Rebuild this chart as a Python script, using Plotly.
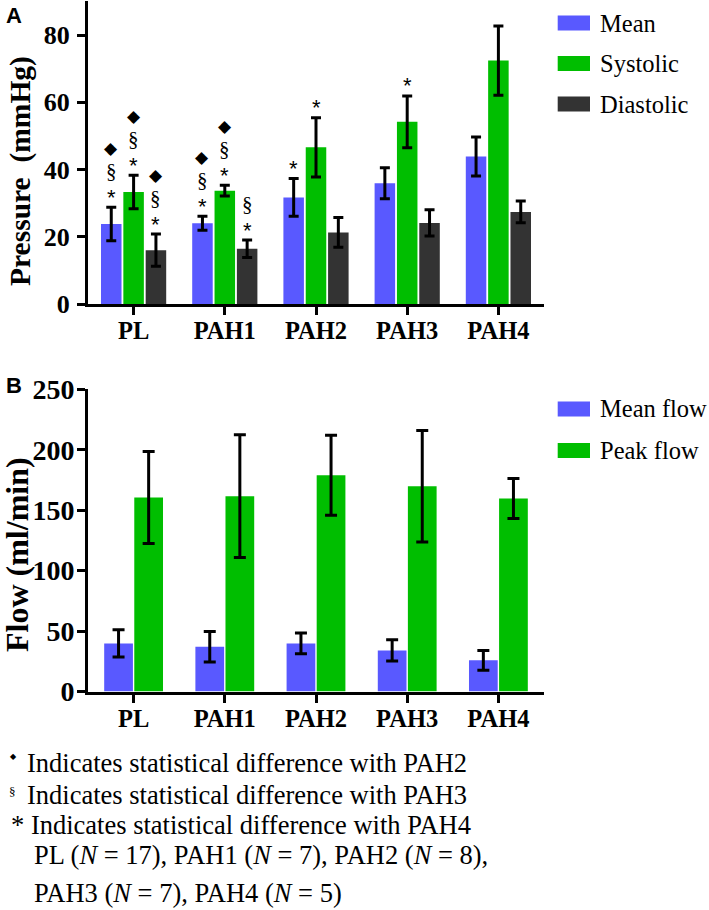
import plotly.graph_objects as go

# ---------------- data ----------------
categories = ["PL", "PAH1", "PAH2", "PAH3", "PAH4"]

pressure_series = ["Mean", "Systolic", "Diastolic"]
pressure_mean = [23.8, 24.0, 31.7, 35.9, 43.9]
pressure_mean_err = [5.0, 2.1, 5.6, 4.6, 5.8]
pressure_systolic = [33.3, 33.7, 46.6, 54.2, 72.4]
pressure_systolic_err = [5.0, 1.6, 8.8, 7.7, 10.3]
pressure_diastolic = [16.0, 16.4, 21.3, 24.1, 27.4]
pressure_diastolic_err = [4.8, 2.6, 4.4, 3.9, 3.2]
pressure_ticks = [0, 20, 40, 60, 80]

# significance symbols per bar, listed bottom -> top
sig_mean = ["*§◆", "*§◆", "*", "", ""]
sig_systolic = ["*§◆", "*§◆", "*", "*", ""]
sig_diastolic = ["*§◆", "*§", "", "", ""]

flow_series = ["Mean flow", "Peak flow"]
flow_mean = [39.8, 37.0, 39.8, 34.0, 25.8]
flow_mean_err = [11.2, 12.6, 8.6, 8.8, 8.2]
flow_peak = [160.5, 161.6, 178.9, 169.8, 159.7]
flow_peak_err = [38.0, 50.7, 33.0, 46.2, 16.6]
flow_ticks = [0, 50, 100, 150, 200, 250]

footnotes = [
    "Indicates statistical difference with PAH2",
    "Indicates statistical difference with PAH3",
    "* Indicates statistical difference with PAH4",
    "PL (<i>N</i> = 17), PAH1 (<i>N</i> = 7), PAH2 (<i>N</i> = 8),",
    "PAH3 (<i>N</i> = 7), PAH4 (<i>N</i> = 5)",
]

# ---------------- style ----------------
W, H = 709, 910
BLUE, GREEN, DARK = "#5959FF", "#00BE00", "#333333"
SERIF = "Liberation Serif, Times New Roman, Times, DejaVu Serif, serif"
SANS = "Liberation Sans, Arial, Helvetica, sans-serif"

X0, X1 = 88, 544            # plot area in px (both panels)
A_TOP, A_BOT = 1.4, 304     # panel A y-extent px
B_TOP, B_BOT = 389.3, 691.5 # panel B y-extent px
PPU = (X1 - X0) / 5.0       # px per category unit


def py(p):  # px from top -> paper y
    return 1 - p / H


def px(p):
    return p / W


fig = go.Figure()

# Panel A bars (explicit offsets so both panels can differ)
a_slot, a_w = 0.245, 0.225
a_vals = [(pressure_mean, pressure_mean_err, BLUE),
          (pressure_systolic, pressure_systolic_err, GREEN),
          (pressure_diastolic, pressure_diastolic_err, DARK)]
for i, (vals, errs, col) in enumerate(a_vals):
    c = (i - 1) * a_slot
    fig.add_trace(go.Bar(
        x=categories, y=vals, name=pressure_series[i], marker_color=col,
        marker_line_width=0, width=a_w, offset=c - a_w / 2,
        error_y=dict(type="data", array=errs, color="black", thickness=3, width=5),
        xaxis="x", yaxis="y", showlegend=False))

# Panel B bars
b_slot, b_w = 0.33, 0.315
b_vals = [(flow_mean, flow_mean_err, BLUE), (flow_peak, flow_peak_err, GREEN)]
for i, (vals, errs, col) in enumerate(b_vals):
    c = (i - 0.5) * b_slot
    fig.add_trace(go.Bar(
        x=categories, y=vals, name=flow_series[i], marker_color=col,
        marker_line_width=0, width=b_w, offset=c - b_w / 2,
        error_y=dict(type="data", array=errs, color="black", thickness=3, width=6),
        xaxis="x2", yaxis="y2", showlegend=False))

annotations = []
shapes = []

# significance symbols
sym_font = {"*": dict(family=SANS, size=22, color="black"),
            "§": dict(family=SERIF, size=21, color="black"),
            "◆": dict(family="DejaVu Sans", size=17, color="black")}
sym_adj = {"*": -5, "§": 0, "◆": 0}
gaps = [15, 21, 23]
for i, (sigs, vals, errs) in enumerate([(sig_mean, pressure_mean, pressure_mean_err),
                                        (sig_systolic, pressure_systolic, pressure_systolic_err),
                                        (sig_diastolic, pressure_diastolic, pressure_diastolic_err)]):
    c = (i - 1) * a_slot
    for cat, s, v, e in zip(categories, sigs, vals, errs):
        shift = 0
        for k, ch in enumerate(s):
            shift += gaps[k]
            annotations.append(dict(
                x=cat, y=v + e, xref="x", yref="y", text=ch, showarrow=False,
                xshift=c * PPU, yshift=shift + sym_adj[ch], yanchor="middle",
                xanchor="center", font=sym_font[ch]))

# manual legends
def legend(names, colors, centers):
    for n, col, cy in zip(names, colors, centers):
        shapes.append(dict(type="rect", xref="paper", yref="paper",
                           x0=px(557.7), x1=px(590), y0=py(cy + 7.5), y1=py(cy - 7.5),
                           fillcolor=col, line=dict(width=0)))
        annotations.append(dict(x=px(598), y=py(cy), xref="paper", yref="paper",
                                text=n, showarrow=False, xanchor="left", yanchor="middle",
                                font=dict(family=SERIF, size=24.5, color="black")))

legend(pressure_series, [BLUE, GREEN, DARK], [23, 63.5, 104])
legend(flow_series, [BLUE, GREEN], [409, 450.5])

# panel letters
annotations.append(dict(x=px(4), y=py(15), xref="paper", yref="paper", text="<b>A</b>",
                        showarrow=False, xanchor="left", yanchor="middle",
                        font=dict(family=SANS, size=22, color="black")))
annotations.append(dict(x=px(4), y=py(385), xref="paper", yref="paper", text="<b>B</b>",
                        showarrow=False, xanchor="left", yanchor="middle",
                        font=dict(family=SANS, size=22, color="black")))

# y-axis titles
annotations.append(dict(x=px(20), y=py(171), xref="paper", yref="paper",
                        text="<b>Pressure  (mmHg)</b>", textangle=-90, showarrow=False,
                        xanchor="center", yanchor="middle",
                        font=dict(family=SERIF, size=29.5, color="black")))
annotations.append(dict(x=px(17), y=py(555), xref="paper", yref="paper",
                        text="<b>Flow (ml/min)</b>", textangle=-90, showarrow=False,
                        xanchor="center", yanchor="middle",
                        font=dict(family=SERIF, size=32, color="black")))

# footnotes
fn_font = dict(family=SERIF, size=26.5, color="black")
fn_rows = [(25, 762.5), (25, 794.5), (9, 825), (32, 855), (32, 892.5)]
for t, (fx, fy) in zip(footnotes, fn_rows):
    annotations.append(dict(x=px(fx), y=py(fy), xref="paper", yref="paper", text=t,
                            showarrow=False, xanchor="left", yanchor="middle", font=fn_font))
annotations.append(dict(x=px(13), y=py(756.5), xref="paper", yref="paper", text="◆",
                        showarrow=False, xanchor="center", yanchor="middle",
                        font=dict(family="DejaVu Sans", size=8, color="black")))
annotations.append(dict(x=px(12.5), y=py(791), xref="paper", yref="paper", text="§",
                        showarrow=False, xanchor="center", yanchor="middle",
                        font=dict(family=SERIF, size=13, color="black")))

axis_common = dict(showline=True, linecolor="black", linewidth=3, ticks="outside",
                   ticklen=8, tickwidth=3, tickcolor="black", showgrid=False,
                   zeroline=False, mirror=False, automargin=False)
xfont = dict(family=SERIF, size=24.5, color="black", weight="bold")

fig.update_layout(
    template="none",
    width=W, height=H, margin=dict(l=0, r=0, t=0, b=0, autoexpand=False),
    font=dict(family=SERIF, color="black"),
    paper_bgcolor="white", plot_bgcolor="white", barmode="overlay",
    xaxis=dict(domain=[px(X0), px(X1)], range=[-0.5, 4.5], type="category",
               anchor="y", tickfont=xfont, ticklabelstandoff=-5, **axis_common),
    yaxis=dict(domain=[py(A_BOT), py(A_TOP)], range=[0, 90], tickvals=pressure_ticks,
               anchor="x", ticklabelstandoff=2,
               tickfont=dict(family=SERIF, size=26, color="black", weight="bold"),
               **axis_common),
    xaxis2=dict(domain=[px(X0), px(X1)], range=[-0.5, 4.5], type="category",
                anchor="y2", tickfont=xfont, ticklabelstandoff=-5, **axis_common),
    yaxis2=dict(domain=[py(B_BOT), py(B_TOP)], range=[0, 250], tickvals=flow_ticks,
                anchor="x2", ticklabelstandoff=-3,
                tickfont=dict(family=SERIF, size=28, color="black", weight="bold"),
                **axis_common),
    annotations=annotations, shapes=shapes,
)

fig.write_html("out.html",
               config={"displayModeBar": False},
               post_script="document.documentElement.style.margin='0';"
                           "document.body.style.margin='0';")
